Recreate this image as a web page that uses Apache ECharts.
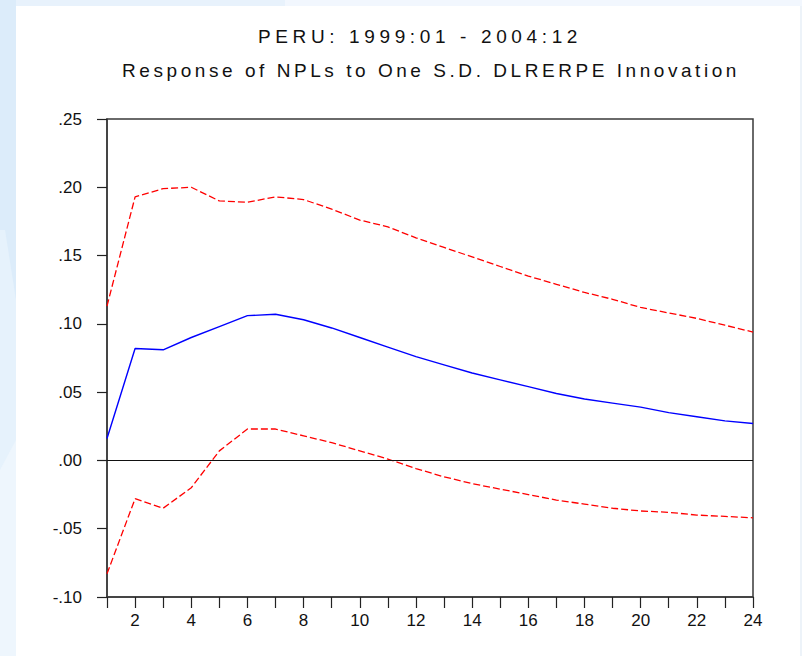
<!DOCTYPE html>
<html>
<head>
<meta charset="utf-8">
<script src="https://cdn.jsdelivr.net/npm/echarts@6/dist/echarts.min.js"></script>
<style>
  html, body { margin: 0; padding: 0; background: #ffffff; }
  #chart { width: 802px; height: 656px; }
</style>
</head>
<body>
<div id="chart"></div>
<script>
// Impulse-response horizon (months after the shock)
const horizon = [1, 2, 3, 4, 5, 6, 7, 8, 9, 10, 11, 12, 13, 14, 15, 16, 17, 18, 19, 20, 21, 22, 23, 24];

// Response of NPLs to a one S.D. DLRERPE innovation
const response = [0.016, 0.082, 0.081, 0.090, 0.098, 0.106, 0.107, 0.103, 0.097, 0.090, 0.083, 0.076,
                  0.070, 0.064, 0.059, 0.054, 0.049, 0.045, 0.042, 0.039, 0.035, 0.032, 0.029, 0.027];

// +/- 2 S.E. bands
const upperBand = [0.113, 0.193, 0.199, 0.200, 0.190, 0.189, 0.193, 0.191, 0.184, 0.176, 0.171, 0.163,
                   0.156, 0.149, 0.142, 0.135, 0.129, 0.123, 0.118, 0.112, 0.108, 0.104, 0.099, 0.094];
const lowerBand = [-0.083, -0.028, -0.035, -0.020, 0.007, 0.023, 0.023, 0.018, 0.013, 0.007, 0.001, -0.006,
                   -0.012, -0.017, -0.021, -0.025, -0.029, -0.032, -0.035, -0.037, -0.038, -0.040, -0.041, -0.042];

// Heading lines
const titleLines = ['PERU: 1999:01 - 2004:12', 'Response of NPLs to One S.D. DLRERPE Innovation'];

const pairs = (ys) => horizon.map((h, i) => [h, ys[i]]);
const fmtY = (v) => {
  const s = (Math.round(v * 100) / 100).toFixed(2);
  return s.replace('0.', '.');
};

const FONT = '"Liberation Sans", Arial, Helvetica, sans-serif';
const AXIS = '#3a3a3a';

const chart = echarts.init(document.getElementById('chart'), null, { renderer: 'svg' });

chart.setOption({
  animation: false,
  backgroundColor: '#ffffff',
  graphic: [
    { type: 'rect', z: -10, shape: { x: 0, y: 0, width: 16, height: 656 }, style: { fill: '#dcecfa' } },
    { type: 'polygon', z: -9, shape: { points: [[0, 230], [5, 230], [16, 300], [16, 470], [0, 470]] }, style: { fill: '#e6f2fc' } },
    { type: 'polygon', z: -9, shape: { points: [[0, 470], [16, 440], [16, 656], [0, 656]] }, style: { fill: '#eef6fd' } },
    { type: 'rect', z: -10, shape: { x: 16, y: 0, width: 786, height: 6 }, style: { fill: '#e8f2fc' } },
    { type: 'rect', z: -9, shape: { x: 285, y: 0, width: 517, height: 6 }, style: { fill: '#f2f7fe' } },
    { type: 'rect', z: -10, shape: { x: 800, y: 0, width: 2, height: 656 }, style: { fill: '#edf3f9' } },
    { type: 'text', id: 't1', x: 420, y: 36,
      style: { text: titleLines[0], fill: '#111', font: '19px ' + FONT, textAlign: 'center', textVerticalAlign: 'middle' } },
    { type: 'text', id: 't2', x: 431, y: 70,
      style: { text: titleLines[1], fill: '#111', font: '19px ' + FONT, textAlign: 'center', textVerticalAlign: 'middle' } }
  ],
  grid: {
    left: 107, right: 49, top: 119, bottom: 59,
    show: true, borderColor: AXIS, borderWidth: 1.5, backgroundColor: 'transparent'
  },
  xAxis: {
    type: 'value', min: 1, max: 24, interval: 1,
    axisLine: { show: true, onZero: false, lineStyle: { color: AXIS, width: 1.5 } },
    axisTick: { show: true, inside: false, length: 11, lineStyle: { color: '#222', width: 1.2 } },
    axisLabel: {
      margin: 15, color: '#111', fontSize: 17, fontFamily: FONT,
      formatter: (v) => (v % 2 === 0 ? String(v) : '')
    },
    splitLine: { show: false }
  },
  yAxis: {
    type: 'value', min: -0.10, max: 0.25, interval: 0.05,
    axisLine: { show: true, onZero: false, lineStyle: { color: AXIS, width: 1.5 } },
    axisTick: { show: true, inside: false, length: 10, lineStyle: { color: '#222', width: 1.2 } },
    axisLabel: { margin: 25, color: '#111', fontSize: 17, fontFamily: FONT, formatter: fmtY },
    splitLine: { show: false }
  },
  series: [
    {
      name: 'upper', type: 'line', data: pairs(upperBand), showSymbol: false, symbol: 'none',
      lineStyle: { color: '#ff0000', width: 1.3, type: [7, 3] }, z: 3
    },
    {
      name: 'lower', type: 'line', data: pairs(lowerBand), showSymbol: false, symbol: 'none',
      lineStyle: { color: '#ff0000', width: 1.3, type: [7, 3] }, z: 3
    },
    {
      name: 'response', type: 'line', data: pairs(response), showSymbol: false, symbol: 'none',
      lineStyle: { color: '#0000ff', width: 1.4 }, z: 4,
      markLine: {
        silent: true, symbol: 'none', label: { show: false },
        lineStyle: { color: '#111', width: 1.2, type: 'solid' },
        data: [{ yAxis: 0 }]
      }
    }
  ]
});

// Spread the heading letters out to the wide, tracked look of the printed title
const targetWidths = [324, 618];
function trackHeadings() {
  const texts = document.querySelectorAll('#chart svg text');
  texts.forEach((el) => {
    const idx = titleLines.indexOf(el.textContent);
    if (idx < 0) return;
    el.setAttribute('letter-spacing', '0');
    const base = el.getComputedTextLength();
    const n = el.textContent.length;
    const sp = Math.max(0, (targetWidths[idx] - base) / n);
    el.setAttribute('letter-spacing', sp.toFixed(2));
  });
}
trackHeadings();
chart.on('finished', trackHeadings);
</script>
</body>
</html>
